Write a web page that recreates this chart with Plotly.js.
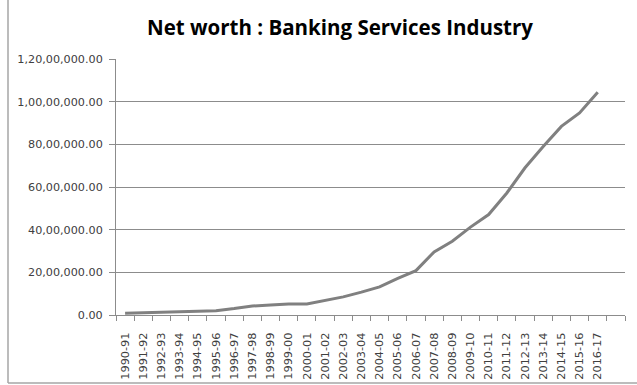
<!DOCTYPE html>
<html>
<head>
<meta charset="utf-8">
<script src="https://cdn.plot.ly/plotly-3.0.1.min.js"></script>
<style>html,body{margin:0;padding:0;background:#fff}#chart{width:637px;height:385px}</style>
</head>
<body>
<div id="chart"></div>
<script>
var years = ["1990-91","1991-92","1992-93","1993-94","1994-95","1995-96","1996-97","1997-98","1998-99","1999-00",
             "2000-01","2001-02","2002-03","2003-04","2004-05","2005-06","2006-07","2007-08","2008-09","2009-10",
             "2010-11","2011-12","2012-13","2013-14","2014-15","2015-16","2016-17"];
var netWorth = [80000, 100000, 120000, 150000, 170000, 200000, 300000, 420000, 470000, 520000,
                520000, 680000, 850000, 1070000, 1320000, 1720000, 2080000, 2960000, 3460000, 4120000,
                4710000, 5720000, 6900000, 7900000, 8840000, 9470000, 10440000];
var yTickVals = [0, 2000000, 4000000, 6000000, 8000000, 10000000, 12000000];
var yTickText = ["0.00", "20,00,000.00", "40,00,000.00", "60,00,000.00", "80,00,000.00", "1,00,00,000.00", "1,20,00,000.00"];

var cats = years.concat([" "]);
var L = 116, R = 12, T = 59, B = 70, W = 637, H = 385;
var pw = W - L - R, ph = H - T - B;
function px(x){ return (x - L) / pw; }
function py(y){ return (H - B - y) / ph; }

var trace = {
  x: years, y: netWorth, type: "scatter", mode: "lines",
  line: {color: "#808080", width: 3}, hoverinfo: "skip", showlegend: false
};
var layout = {
  width: W, height: H,
  margin: {l: L, r: R, t: T, b: B, pad: 0},
  paper_bgcolor: "#ffffff", plot_bgcolor: "#ffffff",
  font: {family: "DejaVu Sans", size: 11, color: "#404040"},
  title: {text: "Net worth : Banking Services Industry", font: {family: "Open Sans", size: 20.5, color: "#000000", weight: "bold"},
          xref: "container", x: 340 / W, xanchor: "center", yref: "container", y: 1 - 28 / H, yanchor: "middle"},
  xaxis: {type: "category", categoryorder: "array", categoryarray: cats, range: [-0.5, cats.length - 0.5],
          tickson: "boundaries", ticks: "outside", ticklen: 5, tickcolor: "#8c8c8c", tickwidth: 1,
          tickangle: -90, ticklabelstandoff: 12, showgrid: false, showline: true, linecolor: "#8c8c8c", linewidth: 1,
          tickfont: {family: "DejaVu Sans", size: 11.3, color: "#404040"}, zeroline: false, fixedrange: true},
  yaxis: {range: [0, 12000000], tickvals: yTickVals, ticktext: yTickText, ticks: "outside", ticklen: 6,
          ticklabelstandoff: 4,
          tickcolor: "#8c8c8c", showgrid: true, gridcolor: "#8c8c8c", gridwidth: 1, showline: true,
          linecolor: "#8c8c8c", linewidth: 1, zeroline: false, tickfont: {family: "DejaVu Sans", size: 11.2, color: "#404040"},
          fixedrange: true},
  shapes: [
    {type: "line", xref: "paper", yref: "paper", x0: px(8), x1: px(8), y0: py(383), y1: py(0), line: {color: "#a6a6a6", width: 1.5}},
    {type: "line", xref: "paper", yref: "paper", x0: px(8), x1: px(637), y0: py(383), y1: py(383), line: {color: "#a6a6a6", width: 1.5}}
  ]
};
Plotly.newPlot("chart", [trace], layout, {staticPlot: true, displayModeBar: false});
</script>
</body>
</html>
